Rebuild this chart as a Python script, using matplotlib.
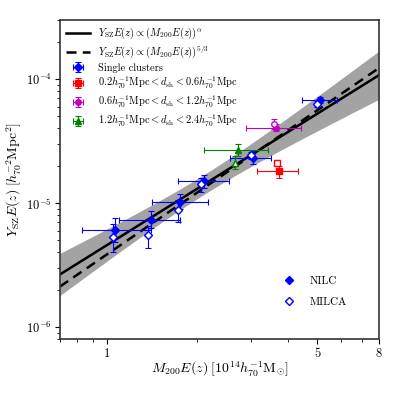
import numpy as np
import matplotlib
matplotlib.use("Agg")
import matplotlib.pyplot as plt
import matplotlib.ticker as mticker
from matplotlib.lines import Line2D

plt.rcParams["font.family"] = "serif"
plt.rcParams["font.serif"] = ["cmr10"]
plt.rcParams["mathtext.fontset"] = "cm"
plt.rcParams["axes.formatter.use_mathtext"] = True

# ── single clusters (NILC filled, MILCA open) ────────────────────────────────
sc_m = [1.07, 1.40, 1.75, 2.11, 3.05, 5.08]
sc_m_lo = [0.83, 1.10, 1.41, 1.72, 2.57, 4.46]
sc_m_hi = [1.40, 1.75, 2.17, 2.54, 3.50, 5.81]
sc_y = [6.06e-6, 7.32e-6, 1.02e-5, 1.52e-5, 2.32e-5, 6.79e-5]
sc_y_lo = [4.82e-6, 6.25e-6, 8.9e-6, 1.33e-5, 2.05e-5, 6.37e-5]
sc_y_hi = [7.53e-6, 8.58e-6, 1.19e-5, 1.69e-5, 2.61e-5, 7.24e-5]
sc_m_milca = [1.05, 1.375, 1.72, 2.06, 3.00, 5.00]
sc_y_milca = [5.35e-6, 5.57e-6, 8.73e-6, 1.43e-5, 2.43e-5, 6.34e-5]
sc_y_milca_lo = [4.0e-6, 4.35e-6, 7.03e-6, 1.24e-5, 2.28e-5, 6.0e-5]
sc_y_milca_hi = [6.73e-6, 6.55e-6, 1.05e-5, 1.60e-5, 2.58e-5, 6.7e-5]

# ── stacked pairs by separation: NILC (M, M_lo, M_hi, Y, Y_lo, Y_hi), MILCA (M, Y, Y_lo, Y_hi)
red_pt = [3.73, 3.15, 4.31, 1.81e-5, 1.60e-5, 1.99e-5]
red_milca = [3.66, 2.11e-5, 1.98e-5, 2.24e-5]
mag_pt = [3.65, 2.89, 4.40, 4.05e-5, 3.79e-5, 4.31e-5]
mag_milca = [3.58, 4.31e-5, 3.93e-5, 4.73e-5]
grn_pt = [2.72, 2.11, 3.43, 2.67e-5, 2.38e-5, 3.02e-5]
grn_milca = [2.67, 2.12e-5, 1.87e-5, 2.39e-5]

# ── scaling relation fit ─────────────────────────────────────────────────────
pivot = 2.0
fit_norm = 1.31e-5
fit_alpha = 1.52
fixed_norm = 1.22e-5
fixed_alpha = 5.0 / 3.0
band_pivot = 2.14
band_norm_err = 0.08   # dex
band_alpha_err = 0.31

fig = plt.figure(figsize=(3.99, 3.99), dpi=100)
ax = fig.add_axes([0.150, 0.150, 0.800, 0.800])

mgrid = np.logspace(np.log10(0.7), np.log10(8.0), 200)
logy_fit = np.log10(fit_norm) + fit_alpha * np.log10(mgrid / pivot)
dx = np.log10(mgrid / band_pivot)
sig = np.sqrt(band_norm_err**2 + (band_alpha_err * dx) ** 2)
ax.fill_between(mgrid, 10 ** (logy_fit - sig), 10 ** (logy_fit + sig),
                color="#a3a3a3", lw=0, zorder=1)
ax.plot(mgrid, 10 ** logy_fit, "k-", lw=1.8, zorder=2,
        label=r"$Y_{\rm SZ}E(z) \propto (M_{200}E(z))^{\alpha}$")
ax.plot(mgrid, fixed_norm * (mgrid / pivot) ** fixed_alpha, "k--", lw=1.8,
        dashes=(4, 2.5), zorder=2,
        label=r"$Y_{\rm SZ}E(z) \propto (M_{200}E(z))^{5/3}$")

eb = dict(elinewidth=0.8, capsize=2, capthick=0.8, ms=4, zorder=4)

# single clusters
sc_m_a, sc_y_a = np.array(sc_m), np.array(sc_y)
ax.errorbar(sc_m_a, sc_y_a,
            xerr=[sc_m_a - np.array(sc_m_lo), np.array(sc_m_hi) - sc_m_a],
            yerr=[sc_y_a - np.array(sc_y_lo), np.array(sc_y_hi) - sc_y_a],
            fmt="D", color="b", label="Single clusters", **eb)
ym = np.array(sc_y_milca)
ax.errorbar(sc_m_milca, ym,
            yerr=[ym - np.array(sc_y_milca_lo), np.array(sc_y_milca_hi) - ym],
            fmt="D", color="b", mfc="w", **eb)

groups = [
    (red_pt, red_milca, "s", "r",
     r"$0.2h_{70}^{-1}{\rm Mpc} < d_{\rm sh} < 0.6h_{70}^{-1}{\rm Mpc}$"),
    (mag_pt, mag_milca, "o", "m",
     r"$0.6h_{70}^{-1}{\rm Mpc} < d_{\rm sh} < 1.2h_{70}^{-1}{\rm Mpc}$"),
    (grn_pt, grn_milca, "^", "g",
     r"$1.2h_{70}^{-1}{\rm Mpc} < d_{\rm sh} < 2.4h_{70}^{-1}{\rm Mpc}$"),
]
for pt, mil, mk, col, lab in groups:
    m, mlo, mhi, y, ylo, yhi = pt
    ax.errorbar([m], [y], xerr=[[m - mlo], [mhi - m]], yerr=[[y - ylo], [yhi - y]],
                fmt=mk, color=col, label=lab, **eb)
    mm, yy, yylo, yyhi = mil
    ax.errorbar([mm], [yy], yerr=[[yy - yylo], [yyhi - yy]],
                fmt=mk, color=col, mfc="w", **eb)

ax.set_xscale("log")
ax.set_yscale("log")
ax.set_xlim(0.7, 8.0)
ax.set_ylim(8e-7, 3e-4)
ax.set_xticks([1, 5, 8])
ax.xaxis.set_major_formatter(mticker.FixedFormatter(["1", "5", "8"]))
ax.xaxis.set_minor_formatter(mticker.NullFormatter())
ax.tick_params(labelsize=9, pad=2.5)

ax.set_xlabel(r"$M_{200}E(z)\;[10^{14}h_{70}^{-1}{\rm M}_{\odot}]$", fontsize=10,
              labelpad=0)
ax.set_ylabel(r"$Y_{\rm SZ}E(z)\;[h_{70}^{-2}{\rm Mpc}^2]$", fontsize=10,
              labelpad=1)
for s in ax.spines.values():
    s.set_linewidth(1.2)
    s.set_color("#333333")

leg1 = ax.legend(loc="upper left", fontsize=7.5, frameon=False,
                 handlelength=2.3, labelspacing=0.22, borderaxespad=0.2)
ax.add_artist(leg1)
handles = [Line2D([], [], marker="D", color="b", ls="none", ms=4.5),
           Line2D([], [], marker="D", color="b", mfc="w", ls="none", ms=4.5)]
ax.legend(handles, ["NILC", "MILCA"], loc="lower right", fontsize=8,
          frameon=False, labelspacing=1.0, bbox_to_anchor=(0.93, 0.07))

fig.savefig("out.png", dpi=100)
